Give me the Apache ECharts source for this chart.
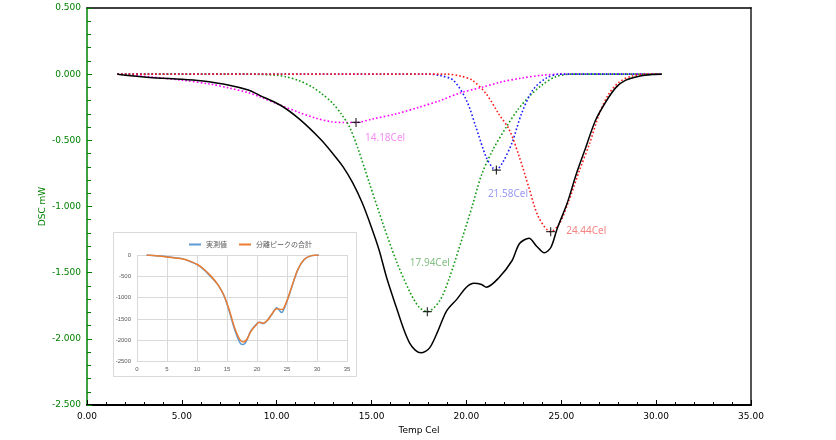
<!DOCTYPE html>
<html>
<head>
<meta charset="utf-8">
<script src="https://cdn.jsdelivr.net/npm/echarts@6/dist/echarts.min.js"></script>
<style>
html,body{margin:0;padding:0;background:#fff;}
#chart{width:836px;height:440px;}
</style>
</head>
<body>
<div id="chart"></div>
<script>
// ---- Main chart data (Temp Cel, DSC mW) ----
var measuredT = [1.6, 3.3, 5.0, 6.0, 7.5, 8.5, 9.1, 10.2, 11.2, 12.3, 12.9, 13.5, 14.0, 14.5, 15.0, 15.4, 15.8, 16.3, 16.7, 17.0, 17.3, 17.6, 18.05, 18.5, 18.95, 19.5, 20.0, 20.4, 20.8, 21.05, 21.7, 22.4, 22.8, 23.3, 23.7, 24.1, 24.45, 24.8, 25.3, 25.8, 26.3, 26.8, 27.4, 27.9, 28.4, 29.1, 29.8, 30.3];
var measuredV = [0, -0.025, -0.038, -0.05, -0.083, -0.12, -0.16, -0.235, -0.34, -0.49, -0.59, -0.70, -0.82, -0.97, -1.16, -1.33, -1.54, -1.76, -1.93, -2.03, -2.085, -2.106, -2.07, -1.94, -1.79, -1.70, -1.61, -1.58, -1.59, -1.61, -1.54, -1.41, -1.28, -1.24, -1.30, -1.35, -1.31, -1.16, -0.98, -0.75, -0.55, -0.35, -0.197, -0.098, -0.045, -0.015, -0.002, 0];

var peak1T = [1.6, 3.3, 5.0, 6.5, 7.5, 8.5, 9.1, 10.2, 11.2, 12.0, 12.9, 13.5, 14.2, 15.0, 16.3, 17.5, 18.6, 19.7, 20.8, 21.8, 22.9, 24.0, 25.0, 30.3];
var peak1V = [0, -0.02, -0.045, -0.075, -0.105, -0.14, -0.17, -0.235, -0.29, -0.33, -0.36, -0.365, -0.365, -0.34, -0.30, -0.25, -0.20, -0.14, -0.10, -0.06, -0.03, -0.008, 0, 0];

var peak2T = [1.6, 8.5, 10.0, 10.5, 11.2, 11.9, 12.4, 12.95, 13.4, 13.84, 14.3, 14.9, 15.6, 16.3, 17.0, 17.5, 17.94, 18.6, 19.1, 19.8, 20.3, 20.8, 21.4, 22.1, 22.7, 23.3, 24.0, 24.7, 25.5, 30.3];
var peak2V = [0, 0, -0.008, -0.02, -0.05, -0.10, -0.15, -0.22, -0.30, -0.40, -0.57, -0.83, -1.13, -1.41, -1.64, -1.76, -1.795, -1.71, -1.54, -1.23, -1.0, -0.76, -0.57, -0.40, -0.27, -0.17, -0.08, -0.02, 0, 0];

var peak3T = [1.6, 18.0, 18.6, 19.3, 20.0, 20.5, 21.05, 21.4, 21.58, 21.9, 22.4, 22.9, 23.5, 24.2, 24.9, 30.3];
var peak3V = [0, 0, -0.01, -0.045, -0.197, -0.40, -0.63, -0.71, -0.72, -0.67, -0.52, -0.30, -0.12, -0.03, 0, 0];

var peak4T = [1.6, 19.0, 19.7, 20.3, 21.05, 21.7, 22.26, 22.8, 23.3, 23.8, 24.44, 24.9, 25.4, 25.95, 26.5, 27.0, 27.5, 28.05, 28.7, 29.5, 30.3];
var peak4V = [0, 0, -0.015, -0.045, -0.15, -0.30, -0.42, -0.63, -0.86, -1.08, -1.19, -1.13, -0.955, -0.73, -0.52, -0.30, -0.15, -0.06, -0.015, 0, 0];

var peakTops = [14.18, 17.94, 21.58, 24.44];
var peakTopV = [-0.365, -1.795, -0.725, -1.19];
var peakLabels = ['14.18Cel', '17.94Cel', '21.58Cel', '24.44Cel'];

var xTicks = [0, 35, 5];      // min, max, step
var yTicks = [-2.5, 0.5, 0.5];

// ---- Inset chart data (µW) ----
var insetMeasT = [1.6, 5, 7.5, 9, 10.2, 11.2, 12.3, 13.5, 14.5, 15.4, 16.3, 17.2, 17.6, 18.05, 18.95, 20.0, 20.4, 21.05, 21.7, 22.4, 23.3, 24.1, 24.8, 25.8, 26.8, 27.9, 29.1, 30.3];
var insetMeasV = [0, -40, -85, -160, -240, -350, -510, -700, -955, -1330, -1760, -2070, -2100, -2070, -1790, -1610, -1580, -1610, -1540, -1410, -1240, -1350, -1160, -750, -350, -100, -15, 0];
var insetSumT = [1.6, 5, 7.5, 9, 10.2, 11.2, 12.3, 13.5, 14.5, 15.4, 16.3, 17.2, 17.8, 18.4, 18.95, 20.0, 20.4, 21.05, 21.7, 22.4, 23.3, 24.2, 24.8, 25.8, 26.8, 27.9, 29.1, 30.3];
var insetSumV = [0, -45, -90, -155, -235, -340, -490, -700, -950, -1300, -1720, -2000, -2040, -1960, -1800, -1620, -1580, -1600, -1540, -1400, -1260, -1280, -1140, -740, -340, -100, -15, 0];
var insetNames = ['実測値', '分離ピークの合計'];
var insetXTicks = [0, 35, 5];
var insetYTicks = [-2500, 0, 500];

function pairs(t, v) { return t.map(function (x, i) { return [x, v[i]]; }); }

var peakColors = ['#ff00ff', '#109a10', '#1a1aff', '#ff1a1a'];
var labelColors = ['#f070f0', '#66b066', '#8080f4', '#f46464'];
var labelPos = [[16, 22.5], [9.5, -41.5], [-1.5, 31.5], [22.5, 6.5]];
var labelAlign = ['left', 'center', 'left', 'left'];

var chart = echarts.init(document.getElementById('chart'), null, { renderer: 'canvas' });

var dotted = function (c) {
  return { color: c, width: 1.6, type: [1.6, 2.2] };
};
function peakSeries(t, v, idx) {
  return {
    type: 'line', xAxisIndex: 0, yAxisIndex: 0, data: pairs(t, v),
    showSymbol: false, smooth: 0.3,
    lineStyle: dotted(peakColors[idx]), z: 3, silent: true
  };
}

var crossData = peakTops.map(function (t, i) {
  return {
    value: [t, peakTopV[i]],
    label: {
      show: true, formatter: peakLabels[i], position: labelPos[i],
      align: labelAlign[i], verticalAlign: 'middle',
      color: labelColors[i], fontSize: 10, fontFamily: 'Noto Sans'
    }
  };
});

var option = {
  animation: false,
  backgroundColor: '#fff',
  graphic: [{
    type: 'rect', z: -10,
    shape: { x: 113.5, y: 232.5, width: 243, height: 144 },
    style: { fill: '#fff', stroke: '#d9d9d9', lineWidth: 1 }
  }],
  legend: {
    data: insetNames, left: 184, top: 236, itemWidth: 12, itemHeight: 2, itemGap: 12,
    icon: 'rect',
    textStyle: { fontSize: 7, color: '#595959', fontFamily: 'Noto Sans CJK JP' }
  },
  grid: [
    { left: 87, right: 85, top: 8, bottom: 35 },
    { left: 137, top: 255, width: 210, height: 106.5 }
  ],
  xAxis: [
    {
      gridIndex: 0, type: 'value', min: xTicks[0], max: xTicks[1], interval: xTicks[2],
      name: 'Temp Cel', nameLocation: 'middle', nameGap: 19,
      nameTextStyle: { color: '#000', fontSize: 9, fontFamily: 'DejaVu Sans' },
      axisLine: { onZero: false, lineStyle: { color: '#000', width: 2 } },
      axisTick: { inside: true, length: 5, lineStyle: { color: '#000' } },
      minorTick: { show: true, splitNumber: 5, length: 3, lineStyle: { color: '#000' } },
      axisLabel: { color: '#000', fontSize: 9, margin: 7, fontFamily: 'DejaVu Sans',
        formatter: function (v) { return v.toFixed(2); } },
      splitLine: { show: false }
    },
    {
      gridIndex: 0, type: 'value', position: 'top', min: xTicks[0], max: xTicks[1],
      axisLine: { show: true, onZero: false, lineStyle: { color: '#000', width: 1.5 } },
      axisTick: { show: false }, axisLabel: { show: false }, splitLine: { show: false }
    },
    {
      gridIndex: 1, type: 'value', min: insetXTicks[0], max: insetXTicks[1], interval: insetXTicks[2],
      axisLine: { onZero: false, lineStyle: { color: '#d9d9d9' } },
      axisTick: { show: false },
      axisLabel: { color: '#595959', fontSize: 6, margin: 5 },
      splitLine: { show: true, lineStyle: { color: '#d9d9d9' } }
    }
  ],
  yAxis: [
    {
      gridIndex: 0, type: 'value', min: yTicks[0], max: yTicks[1], interval: yTicks[2],
      name: 'DSC mW', nameLocation: 'middle', nameGap: 40, nameRotate: 90, nameMoveOverlap: false,
      nameTextStyle: { color: '#008000', fontSize: 9, fontFamily: 'DejaVu Sans' },
      axisLine: { onZero: false, lineStyle: { color: '#008000', width: 1.5 } },
      axisTick: { inside: true, length: 5, lineStyle: { color: '#008000' } },
      minorTick: { show: true, splitNumber: 5, length: 4, lineStyle: { color: '#008000' } },
      axisLabel: { color: '#008000', fontSize: 9, margin: 6, fontFamily: 'DejaVu Sans',
        formatter: function (v) { return v.toFixed(3); } },
      splitLine: { show: false }
    },
    {
      gridIndex: 0, type: 'value', position: 'right', min: yTicks[0], max: yTicks[1],
      axisLine: { show: true, onZero: false, lineStyle: { color: '#555', width: 2 } },
      axisTick: { show: false }, axisLabel: { show: false }, splitLine: { show: false }
    },
    {
      gridIndex: 1, type: 'value', min: insetYTicks[0], max: insetYTicks[1], interval: insetYTicks[2],
      axisLine: { show: false }, axisTick: { show: false },
      axisLabel: { color: '#595959', fontSize: 6, margin: 6,
        formatter: function (v) { return String(v); } },
      splitLine: { show: true, lineStyle: { color: '#d9d9d9' } }
    }
  ],
  series: [
    peakSeries(peak1T, peak1V, 0),
    peakSeries(peak2T, peak2V, 1),
    peakSeries(peak3T, peak3V, 2),
    peakSeries(peak4T, peak4V, 3),
    {
      type: 'line', xAxisIndex: 0, yAxisIndex: 0, data: pairs(measuredT, measuredV),
      showSymbol: false, smooth: 0.3,
      lineStyle: { color: '#000', width: 1.5 }, z: 4, silent: true
    },
    {
      type: 'scatter', xAxisIndex: 0, yAxisIndex: 0, data: crossData,
      symbol: 'path://M5,0L5,10M0,5L10,5', symbolSize: 9,
      itemStyle: { color: 'none', borderColor: '#000', borderWidth: 1.2 }, z: 6, silent: true
    },
    {
      name: insetNames[0], type: 'line', xAxisIndex: 2, yAxisIndex: 2, data: pairs(insetMeasT, insetMeasV),
      showSymbol: false, smooth: 0.3, color: '#5b9bd5',
      lineStyle: { color: '#5b9bd5', width: 1.5 }, z: 4, silent: true
    },
    {
      name: insetNames[1], type: 'line', xAxisIndex: 2, yAxisIndex: 2, data: pairs(insetSumT, insetSumV),
      showSymbol: false, smooth: 0.3, color: '#ed7d31',
      lineStyle: { color: '#ed7d31', width: 1.5 }, z: 5, silent: true
    }
  ]
};
chart.setOption(option);
</script>
</body>
</html>
